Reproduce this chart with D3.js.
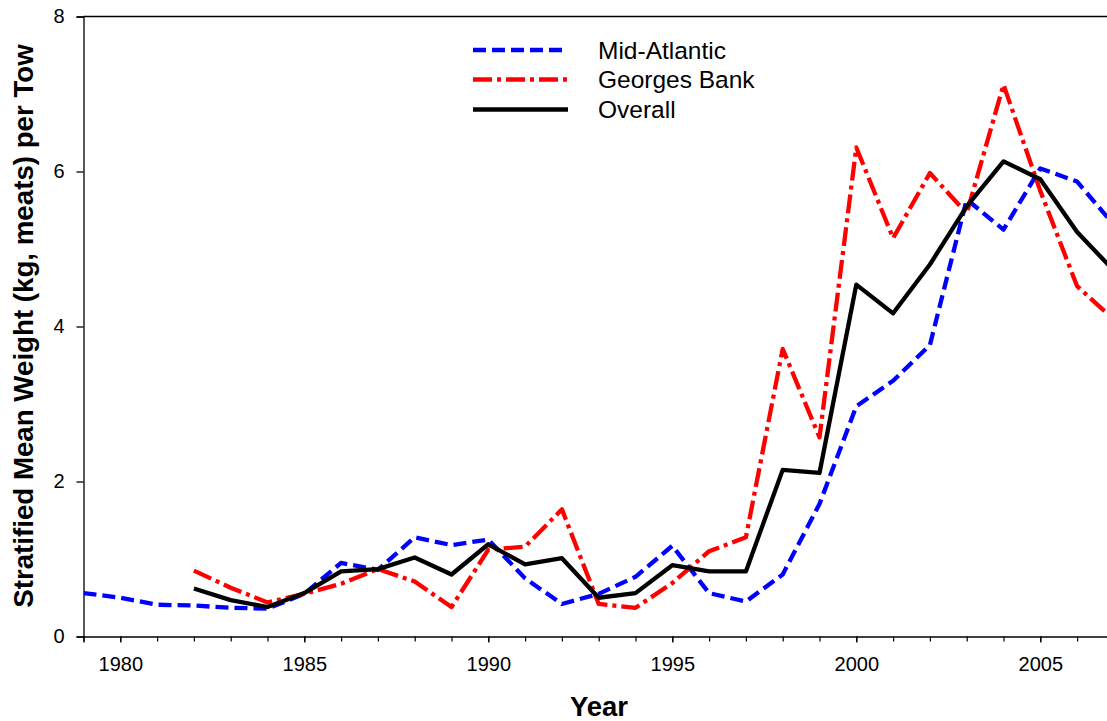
<!DOCTYPE html>
<html>
<head>
<meta charset="utf-8">
<script src="https://cdn.jsdelivr.net/npm/d3@7"></script>
<style>
  html, body { margin: 0; padding: 0; background: #fff; }
  svg { display: block; font-family: "Liberation Sans", Arial, sans-serif; }
</style>
</head>
<body>
<svg id="chart" width="1107" height="721"></svg>
<script>
// ---- data ----
const yearsMidAtlantic = d3.range(1979, 2008);
const midAtlantic = [0.56, 0.50, 0.41, 0.40, 0.37, 0.36, 0.55, 0.95, 0.86, 1.28,
                     1.18, 1.25, 0.75, 0.42, 0.55, 0.77, 1.17, 0.56, 0.45, 0.80,
                     1.71, 2.97, 3.30, 3.76, 5.64, 5.25, 6.04, 5.87, 5.31];
const yearsSurvey = d3.range(1982, 2008);
const georgesBank = [0.85, 0.63, 0.44, 0.55, 0.68, 0.87, 0.71, 0.38, 1.12, 1.16,
                     1.64, 0.42, 0.37, 0.69, 1.10, 1.28, 3.71, 2.57, 6.31, 5.14,
                     5.98, 5.46, 7.12, 5.75, 4.52, 4.09];
const overall     = [0.62, 0.47, 0.38, 0.56, 0.84, 0.87, 1.02, 0.80, 1.19, 0.93,
                     1.01, 0.50, 0.56, 0.92, 0.84, 0.84, 2.15, 2.11, 4.54, 4.17,
                     4.80, 5.55, 6.13, 5.90, 5.22, 4.72];
const seriesNames = ["Mid-Atlantic", "Georges Bank", "Overall"];
const xMajorTicks = [1980, 1985, 1990, 1995, 2000, 2005];
const yTicks = [0, 2, 4, 6, 8];

// ---- layout ----
const svg = d3.select("#chart");
const x = d3.scaleLinear().domain([1979, 2007]).range([83.5, 1113.9]);
const y = d3.scaleLinear().domain([0, 8]).range([636.5, 16.5]);

// frame (top line)
svg.append("line")
  .attr("x1", x(1979)).attr("x2", x(2007))
  .attr("y1", y(8)).attr("y2", y(8))
  .attr("stroke", "#000").attr("stroke-width", 1.3);

// clip
svg.append("clipPath").attr("id", "plotclip")
  .append("rect").attr("x", x(1979)).attr("y", y(8) - 10)
  .attr("width", x(2007) - x(1979)).attr("height", y(0) - y(8) + 10);

// x axis: minor ticks
svg.append("g")
  .attr("transform", `translate(0,${y(0)})`)
  .call(d3.axisBottom(x).tickValues(d3.range(1979, 2008)).tickSize(5).tickFormat(""))
  .call(g => g.select(".domain").remove())
  .call(g => g.selectAll("line").attr("stroke", "#000").attr("stroke-width", 1.2));

// x axis: major ticks with labels
svg.append("g")
  .attr("transform", `translate(0,${y(0)})`)
  .call(d3.axisBottom(x).tickValues(xMajorTicks).tickSize(6).tickPadding(14).tickFormat(d3.format("d")))
  .call(g => g.select(".domain").attr("stroke", "#000").attr("stroke-width", 1.3))
  .call(g => g.selectAll("line").attr("stroke", "#000").attr("stroke-width", 1.3))
  .call(g => g.selectAll("text").attr("font-size", "20px").attr("fill", "#000")
        .attr("font-family", "'Liberation Sans', Arial, sans-serif"));

// y axis
svg.append("g")
  .attr("transform", `translate(${x(1979)},0)`)
  .call(d3.axisLeft(y).tickValues(yTicks).tickSize(7).tickPadding(12).tickFormat(d3.format("d")))
  .call(g => g.select(".domain").attr("stroke", "#000").attr("stroke-width", 1.3))
  .call(g => g.selectAll("line").attr("stroke", "#000").attr("stroke-width", 1.3))
  .call(g => g.selectAll("text").attr("font-size", "20px").attr("fill", "#000")
        .attr("font-family", "'Liberation Sans', Arial, sans-serif"));

// axis titles
svg.append("text")
  .attr("x", 599).attr("y", 716)
  .attr("text-anchor", "middle")
  .attr("font-size", "27.5px").attr("font-weight", "bold")
  .text("Year");

svg.append("text")
  .attr("transform", "translate(32.5,326) rotate(-90)")
  .attr("text-anchor", "middle")
  .attr("font-size", "27.7px").attr("font-weight", "bold")
  .text("Stratified Mean Weight (kg, meats) per Tow");

// lines
const styles = [
  { color: "#0000ff", dash: "13,6" },
  { color: "#ff0000", dash: "19,5,4,5" },
  { color: "#000000", dash: null }
];
const data = [
  yearsMidAtlantic.map((yr, i) => [yr, midAtlantic[i]]),
  yearsSurvey.map((yr, i) => [yr, georgesBank[i]]),
  yearsSurvey.map((yr, i) => [yr, overall[i]])
];
const line = d3.line().x(d => x(d[0])).y(d => y(d[1]));
const plot = svg.append("g").attr("clip-path", "url(#plotclip)");
data.forEach((d, i) => {
  plot.append("path")
    .datum(d)
    .attr("d", line)
    .attr("fill", "none")
    .attr("stroke", styles[i].color)
    .attr("stroke-width", 4.3)
    .attr("stroke-linejoin", "round")
    .attr("stroke-dasharray", styles[i].dash);
});

// legend
const legendY = [50, 79.5, 109.5];
seriesNames.forEach((name, i) => {
  svg.append("line")
    .attr("x1", 473).attr("x2", 568)
    .attr("y1", legendY[i]).attr("y2", legendY[i])
    .attr("stroke", styles[i].color)
    .attr("stroke-width", 4.3)
    .attr("stroke-dasharray", styles[i].dash);
  svg.append("text")
    .attr("x", 598).attr("y", legendY[i] + 8.5)
    .attr("font-size", "24.5px").attr("fill", "#000")
    .text(name);
});
</script>
</body>
</html>
